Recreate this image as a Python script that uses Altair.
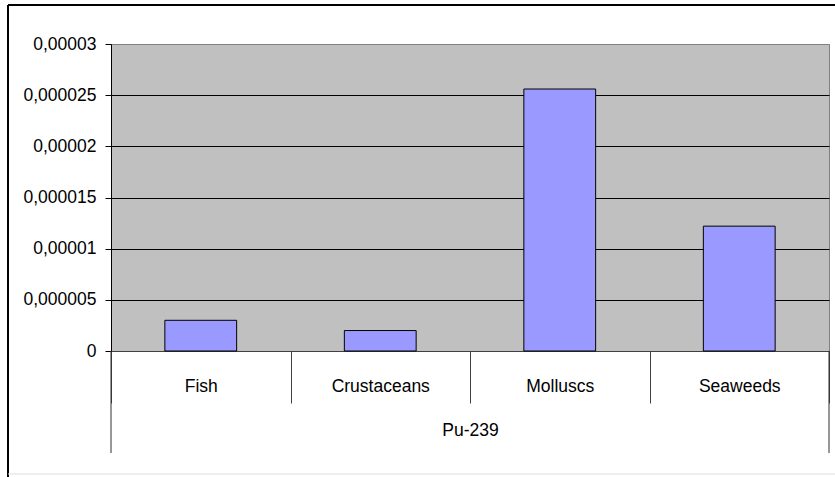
import altair as alt
import pandas as pd

# Pu-239 concentrations by organism group
categories = ["Fish", "Crustaceans", "Molluscs", "Seaweeds"]
values = [0.000003, 0.000002, 0.0000256, 0.0000122]
group_label = "Pu-239"
y_ticks = [0, 0.000005, 0.00001, 0.000015, 0.00002, 0.000025, 0.00003]

df = pd.DataFrame({"category": categories, "value": values})
one = pd.DataFrame({"k": [0]})

W, H = 718, 307
FONT = "Liberation Sans"
FS = 17.5

x_enc = alt.X(
    "category:N",
    sort=categories,
    scale=alt.Scale(paddingInner=0, paddingOuter=0),
    axis=alt.Axis(
        title=group_label,
        labelAngle=0,
        tickBand="extent",
        tickSize=52,
        tickColor="#404040",
        domainColor="#404040",
        labelPadding=-26,
        labelBaseline="top",
        labelFontSize=FS,
        labelColor="black",
        titleFontSize=FS,
        titleFontWeight="normal",
        titleColor="black",
        titleY=79,
        titleBaseline="middle",
        grid=False,
    ),
)

y_enc = alt.Y(
    "value:Q",
    scale=alt.Scale(domain=[0, 0.00003], nice=False),
    axis=alt.Axis(
        title=None,
        values=y_ticks,
        labelExpr="replace(format(datum.value, '.6~f'), '.', ',')",
        tickSize=6,
        tickColor="black",
        domainColor="black",
        labelPadding=9,
        labelFontSize=FS,
        labelColor="black",
        grid=True,
        gridColor=alt.condition("datum.value >= 0.00003", alt.value("#808080"), alt.value("black")),
        gridOpacity=1,
    ),
)

bars = alt.Chart(df).mark_bar(
    color="#9999FF", stroke="black", strokeWidth=1,
    width=alt.RelativeBandSize(0.4),
).encode(x=x_enc, y=y_enc)

# outer category boundaries extending down past the group label
edges = alt.Chart(one).mark_rule(color="#303030", strokeWidth=1).encode(
    x=alt.value(0), y=alt.value(H), y2=alt.value(H + 102)
)
edges_r = alt.Chart(one).mark_rule(color="#303030", strokeWidth=1).encode(
    x=alt.value(W), y=alt.value(H), y2=alt.value(H + 102)
)

# chart frame
frame_top = alt.Chart(one).mark_rule(color="black", strokeWidth=2).encode(
    x=alt.value(-103), x2=alt.value(W + 10), y=alt.value(-39)
)
frame_left = alt.Chart(one).mark_rule(color="black", strokeWidth=2).encode(
    x=alt.value(-103), y=alt.value(-39), y2=alt.value(H + 130)
)
frame_bottom = alt.Chart(one).mark_rule(color="#dddddd", strokeWidth=1).encode(
    x=alt.value(-103), x2=alt.value(W + 10), y=alt.value(H + 123)
)

chart = alt.layer(bars, edges, edges_r, frame_top, frame_left, frame_bottom).properties(
    width=W,
    height=H,
    autosize=alt.AutoSizeParams(type="none"),
    padding={"left": 111, "top": 44, "right": 6, "bottom": 126},
    background="white",
).configure(
    font=FONT,
    view=alt.ViewConfig(fill="#C0C0C0", stroke="#808080", strokeWidth=1),
)

chart.save("out.html", embed_options={"renderer": "svg", "actions": False})
